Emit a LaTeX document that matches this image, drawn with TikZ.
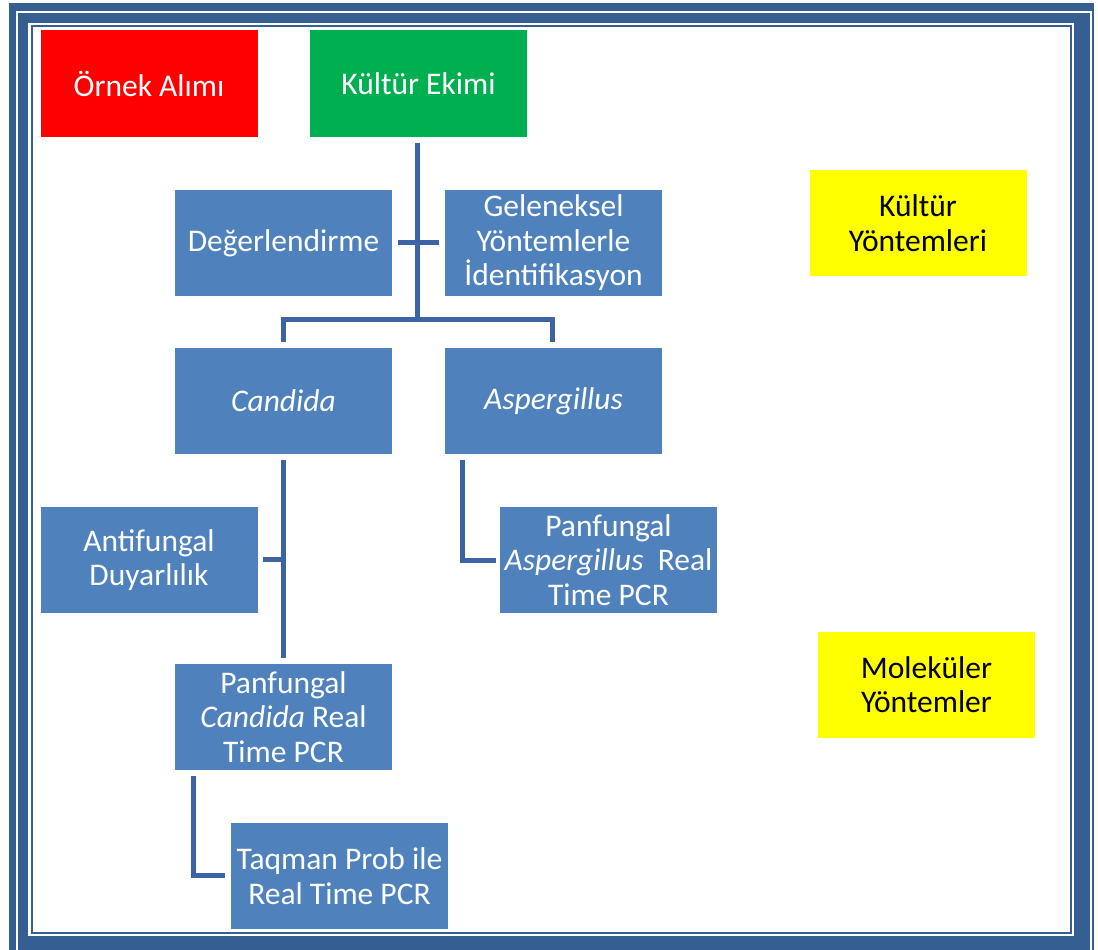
\documentclass[tikz,border=0pt]{standalone}
\usepackage{fontspec}
\setmainfont{Carlito}
\usetikzlibrary{calc}
\definecolor{framec}{HTML}{365F91}
\definecolor{boxblue}{HTML}{4F81BD}
\definecolor{connc}{HTML}{3C64A4}
\definecolor{boxgreen}{HTML}{00B050}
\definecolor{boxred}{HTML}{FF0000}
\definecolor{boxyellow}{HTML}{FFFF00}
\begin{document}
\begin{tikzpicture}[x=1pt,y=-1pt,
  box/.style={minimum width=217pt,minimum height=106pt,inner sep=0pt,align=center,
    font=\fontsize{31.5}{34.5}\selectfont},
  bluebox/.style={box,fill=boxblue,text=white},
  redbox/.style={box,fill=boxred,text=white},
  greenbox/.style={box,fill=boxgreen,text=white},
  yellowbox/.style={box,fill=boxyellow,text=black},
  conn/.style={draw=connc,line width=5pt,line join=miter}]
\useasboundingbox (0,0) rectangle (1098,950);
\begin{scope}
  \clip (0,0) rectangle (1098,950);
  \fill[framec] (9,3) rectangle (1094,960);
  \draw[white,line width=2pt] (17,12) rectangle (1091,1000);
  \fill[white] (28,23) rectangle (1074,936);
  \draw[framec,line width=2pt] (32,26) rectangle (1071,933);
\end{scope}

\node[redbox] (ornek) at (149,83.5) {Örnek Alımı};
\node[greenbox] (kultur) at (418.5,83.5) {Kültür Ekimi};
\node[bluebox] (deger) at (283.5,243) {Değerlendirme};
\node[bluebox] (gelen) at (553.5,243) {Geleneksel\\Yöntemlerle\\İdentifikasyon};
\node[yellowbox] (kyont) at (918,223) {Kültür\\Yöntemleri};
\node[bluebox] (candida) at (283.5,401) {\textit{Candida}};
\node[bluebox] (asper) at (553.5,401) {\textit{Aspergillus}};
\node[bluebox] (anti) at (149,560) {Antifungal\\Duyarlılık};
\node[bluebox] (panasp) at (608.5,560) {Panfungal\\\textit{Aspergillus}~ Real\\Time PCR};
\node[yellowbox] (molek) at (926.5,684.5) {Moleküler\\Yöntemler};
\node[bluebox] (pancan) at (283.5,717) {Panfungal\\\textit{Candida} Real\\Time PCR};
\node[bluebox] (taqman) at (339.5,876) {Taqman Prob ile\\Real Time PCR};

\coordinate (hub) at ($(kultur.south)+(-1,183)$);
\draw[conn] ($(kultur.south)+(-1,6)$) -- (hub);
\draw[conn] ($(deger.east)+(6,-1)$) -- ($(gelen.west)+(-6,-1)$);
\draw[conn] ($(candida.north)+(0,-6)$) |- (hub) -| ($(asper.north)+(-1.5,-6)$);
\draw[conn] ($(candida.south)+(0,6)$) -- ($(pancan.north)+(0,-6)$);
\draw[conn] ($(anti.east)+(5,-1)$) -- ($(anti.east -| candida.south)+(0,-1)$);
\draw[conn] ($(asper.south west)+(18,6)$) |- ($(panasp.west)+(-4,0)$);
\draw[conn] ($(pancan.south west)+(19,6)$) |- ($(taqman.west)+(-6,-1)$);
\end{tikzpicture}
\end{document}
